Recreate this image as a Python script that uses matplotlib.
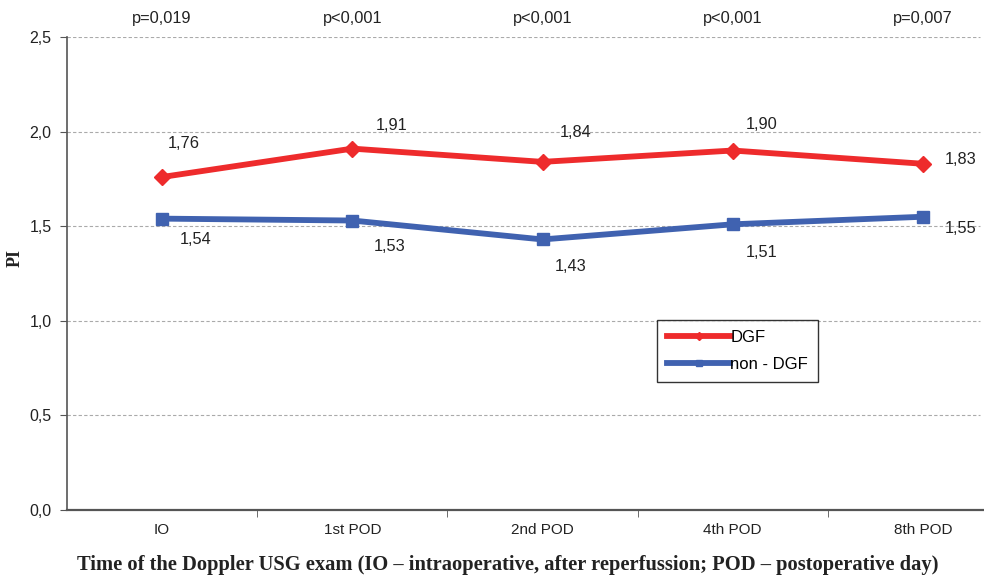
import numpy as np
import matplotlib
matplotlib.use("Agg")
import matplotlib.pyplot as plt

categories = ["IO", "1st POD", "2nd POD", "4th POD", "8th POD"]
dgf = [1.76, 1.91, 1.84, 1.90, 1.83]
non_dgf = [1.54, 1.53, 1.43, 1.51, 1.55]
p_values = ["p=0,019", "p<0,001", "p<0,001", "p<0,001", "p=0,007"]

def comma(v):
    return f"{v:.2f}".replace(".", ",")

plt.rcParams["font.family"] = ["Liberation Sans", "DejaVu Sans"]

fig = plt.figure(figsize=(9.84, 5.81), dpi=100)
# the category axis runs past the right edge of the image, as in the reference
ax = fig.add_axes([67 / 984, 71 / 581, 951 / 984, 473 / 581])

x = np.arange(len(categories))
red = "#EE2B2C"
blue = "#4062B0"
ax.plot(x, dgf, color=red, lw=4.2, marker="D", ms=8, label="DGF", zorder=3)
ax.plot(x, non_dgf, color=blue, lw=4.2, marker="s", ms=8, label="non - DGF", zorder=3)

# value labels
red_off = [(22, 34), (39, 23), (33, 29), (29, 26), (38, 4)]
blue_off = [(34, -21), (37, -26), (28, -27), (29, -28), (38, -12)]
for i in range(len(x)):
    ax.annotate(comma(dgf[i]), (x[i], dgf[i]), xytext=red_off[i], textcoords="offset pixels",
                ha="center", va="center", fontsize=11.8, color="#222222")
    ax.annotate(comma(non_dgf[i]), (x[i], non_dgf[i]), xytext=blue_off[i], textcoords="offset pixels",
                ha="center", va="center", fontsize=11.8, color="#222222")
    ax.annotate(p_values[i], (x[i], 2.5), xytext=(0, 19), textcoords="offset pixels",
                ha="center", va="center", fontsize=11.8, color="#222222", annotation_clip=False)

ax.set_xlim(-0.5, len(categories) - 0.5)
ax.set_ylim(0, 2.5)
ax.set_yticks(np.arange(0, 2.51, 0.5))
ax.set_yticklabels([f"{v:.1f}".replace(".", ",") for v in np.arange(0, 2.51, 0.5)])
ax.set_xticks(x)
ax.set_xticklabels(categories)
ax.set_xticks(np.arange(0.5, len(categories) - 0.5, 1), minor=True)
ax.tick_params(axis="x", which="major", length=0, pad=9, labelsize=11, colors="#222222")
ax.tick_params(axis="x", which="minor", length=5, color="#555555")
ax.tick_params(axis="y", length=5, color="#555555", labelsize=11.5, labelcolor="#222222", pad=6)

for v in [0.5, 1.0, 1.5, 2.0, 2.5]:
    ax.plot([-0.5, 4.3], [v, v], color="#AAAAAA", lw=0.8, ls=(0, (3, 2)), zorder=1)

for s in ["top", "right"]:
    ax.spines[s].set_visible(False)
ax.spines["left"].set_color("#555555")
ax.spines["bottom"].set_color("#555555")
ax.spines["left"].set_linewidth(1.2)
ax.spines["bottom"].set_linewidth(1.6)

serif = ["Liberation Serif", "DejaVu Serif"]
fig.text(15 / 984, 1 - 258 / 581, "PI", family=serif, fontweight="bold", fontsize=13,
         rotation=90, ha="center", va="center", color="#222222")
fig.text(508 / 984, 1 - 565 / 581,
         "Time of the Doppler USG exam (IO \u2013 intraoperative, after reperfussion; POD \u2013 postoperative day)",
         family=serif, fontweight="bold", fontsize=14.8,
         ha="center", va="center", color="#222222")

leg = ax.legend(loc="upper left", bbox_to_anchor=((657 - 67) / 951, (510 - 320) / 473),
                fontsize=12, frameon=True, fancybox=False, handlelength=3.8,
                handletextpad=0.0, borderpad=0.6, labelspacing=0.7, markerscale=0.5,
                borderaxespad=0)
leg.get_frame().set_edgecolor("black")
leg.get_frame().set_linewidth(1.0)

fig.savefig("out.png", dpi=100)
